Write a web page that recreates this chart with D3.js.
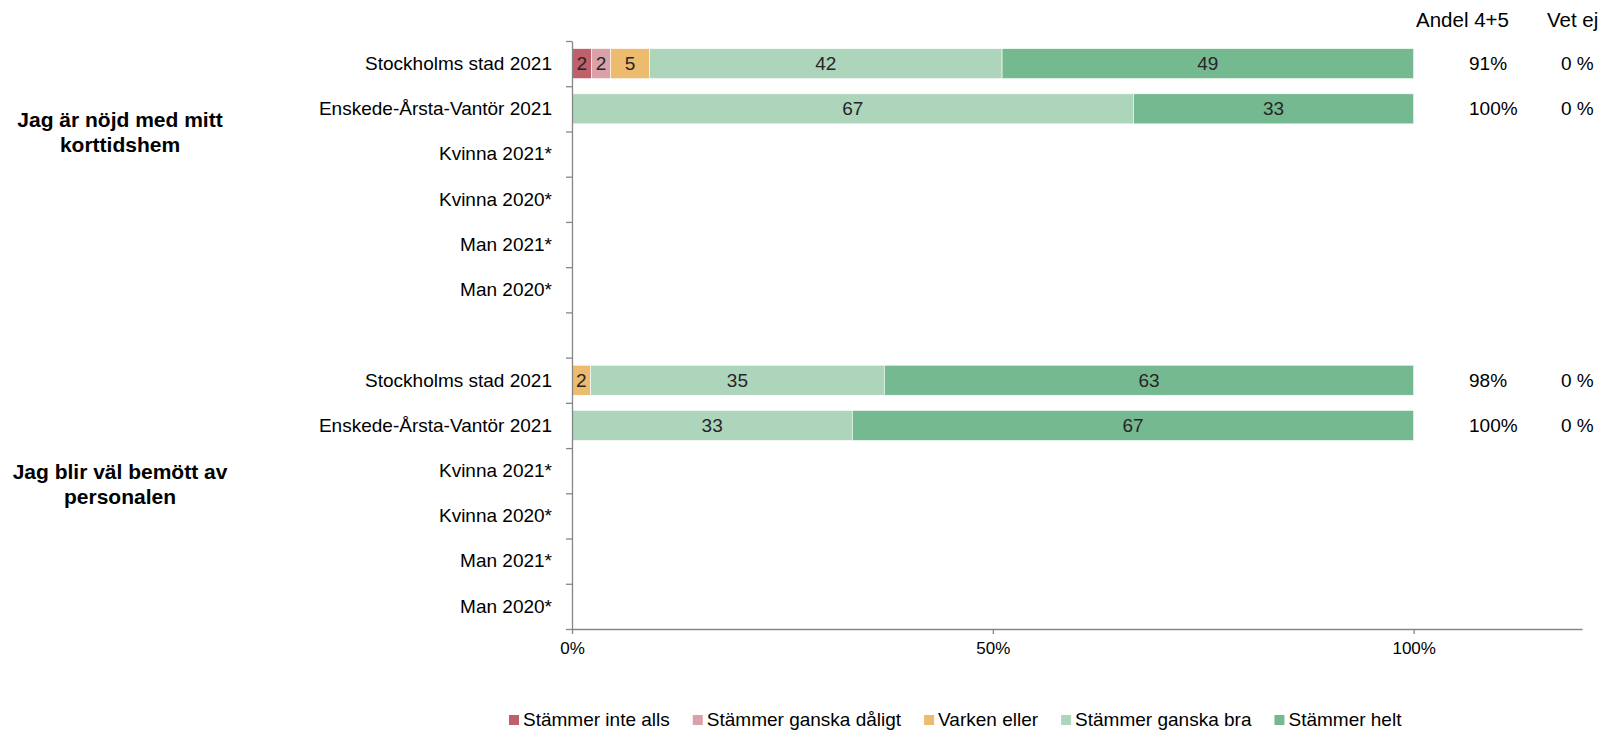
<!DOCTYPE html>
<html>
<head>
<meta charset="utf-8">
<script src="https://cdn.jsdelivr.net/npm/d3@7"></script>
<style>
  html, body { margin: 0; padding: 0; background: #fff; }
  svg { display: block; font-family: "Liberation Sans", Arial, sans-serif; }
</style>
</head>
<body>
<div id="chart"></div>
<script>
// rows top to bottom, index 6 is the blank spacer between the two questions
var rowLabels = ['Stockholms stad 2021', 'Enskede-Årsta-Vantör 2021', 'Kvinna 2021*', 'Kvinna 2020*', 'Man 2021*', 'Man 2020*', '',
  'Stockholms stad 2021', 'Enskede-Årsta-Vantör 2021', 'Kvinna 2021*', 'Kvinna 2020*', 'Man 2021*', 'Man 2020*'];
var seriesNames = ['Stämmer inte alls', 'Stämmer ganska dåligt', 'Varken eller', 'Stämmer ganska bra', 'Stämmer helt'];
var inteAlls  = [2.3, 0, null, null, null, null, null, 0, 0, null, null, null, null];
var ganskaDal = [2.3, 0, null, null, null, null, null, 0, 0, null, null, null, null];
var varken    = [4.6, 0, null, null, null, null, null, 2.2, 0, null, null, null, null];
var ganskaBra = [41.9, 66.7, null, null, null, null, null, 34.9, 33.3, null, null, null, null];
var helt      = [48.9, 33.3, null, null, null, null, null, 62.9, 66.7, null, null, null, null];
var andel45   = ['91%', '100%', null, null, null, null, null, '98%', '100%', null, null, null, null];
var vetEj     = ['0 %', '0 %', null, null, null, null, null, '0 %', '0 %', null, null, null, null];
var groupTitles = [['Jag är nöjd med mitt', 'korttidshem'], ['Jag blir väl bemött av', 'personalen']];
var xTicks = [0, 50, 100];
var colors = ['#c0606a', '#daa1a8', '#edbb6e', '#add5bc', '#75b991'];

var W = 1601, H = 730;
var svg = d3.select('#chart').append('svg').attr('width', W).attr('height', H);

var x = d3.scaleLinear().domain([0, 120]).range([572, 1582]);
var keys = d3.range(rowLabels.length);
var y = d3.scaleBand().domain(keys).range([41, 629]).paddingInner(0.336).paddingOuter(0.168);
var yEdge = d3.scaleLinear().domain([0, keys.length]).range([41, 629]);

var rows = keys.map(function (i) {
  return { i: i, v: [inteAlls[i], ganskaDal[i], varken[i], ganskaBra[i], helt[i]] };
});
var stack = d3.stack().keys([0, 1, 2, 3, 4]).value(function (d, k) { return d.v[k] || 0; });
var layers = stack(rows);

var gL = svg.selectAll('.layer').data(layers).enter().append('g')
  .attr('fill', function (d, k) { return colors[k]; });
gL.selectAll('rect').data(function (d) { return d.filter(function (s) { return s[1] - s[0] > 0; }); })
  .enter().append('rect')
  .attr('x', function (s) { return x(s[0]); })
  .attr('width', function (s) { return x(s[1]) - x(s[0]); })
  .attr('y', function (s) { return y(s.data.i); })
  .attr('height', y.bandwidth())
  .attr('stroke', '#fff').attr('stroke-width', 0.6);
gL.selectAll('text').data(function (d) { return d.filter(function (s) { return s[1] - s[0] > 0; }); })
  .enter().append('text')
  .attr('x', function (s) { return (x(s[0]) + x(s[1])) / 2; })
  .attr('y', function (s) { return y(s.data.i) + y.bandwidth() / 2; })
  .attr('dy', '0.35em').attr('text-anchor', 'middle')
  .attr('fill', '#262626').style('font-size', '19px')
  .text(function (s) { return Math.round(s[1] - s[0]); });

// y axis: labels centred on rows, tick marks between rows
svg.append('g').attr('transform', 'translate(572,0)')
  .call(d3.axisLeft(y).tickSize(0).tickPadding(20).tickFormat(function (i) { return rowLabels[i]; }))
  .call(function (g) {
    g.select('.domain').remove();
    g.selectAll('text').attr('fill', '#000').style('font-size', '19px').attr('dy', '0.33em');
  });
svg.append('g').attr('transform', 'translate(572,0)')
  .call(d3.axisLeft(yEdge).tickValues(d3.range(keys.length + 1)).tickSize(6).tickSizeOuter(0).tickFormat(''))
  .call(function (g) {
    g.select('.domain').attr('stroke', '#868686').attr('stroke-width', 1.3);
    g.selectAll('.tick line').attr('stroke', '#868686').attr('stroke-width', 1.3);
  });

// x axis
svg.append('g').attr('transform', 'translate(0,629)')
  .call(d3.axisBottom(x).tickValues(xTicks).tickSize(5).tickSizeOuter(0).tickPadding(8)
    .tickFormat(function (d) { return d + '%'; }))
  .call(function (g) {
    g.select('.domain').attr('stroke', '#868686').attr('stroke-width', 1.3);
    g.selectAll('.tick line').attr('stroke', '#868686').attr('stroke-width', 1.3);
    g.selectAll('text').attr('fill', '#000').style('font-size', '17px');
  });

// question titles
var titleY = [[127, 152], [479, 504]];
groupTitles.forEach(function (lines, gi) {
  lines.forEach(function (t, li) {
    svg.append('text').attr('x', 120).attr('y', titleY[gi][li])
      .attr('text-anchor', 'middle').attr('fill', '#000')
      .style('font-size', '21px').style('font-weight', 'bold').text(t);
  });
});

// side columns
svg.append('text').attr('x', 1416).attr('y', 27).style('font-size', '20.5px').attr('fill', '#000').text('Andel 4+5');
svg.append('text').attr('x', 1547).attr('y', 27).style('font-size', '20.5px').attr('fill', '#000').text('Vet ej');
svg.selectAll('.andel').data(keys.filter(function (i) { return andel45[i]; })).enter().append('text')
  .attr('x', 1469).attr('y', function (i) { return y(i) + y.bandwidth() / 2; }).attr('dy', '0.35em')
  .style('font-size', '19px').attr('fill', '#000').text(function (i) { return andel45[i]; });
svg.selectAll('.vetej').data(keys.filter(function (i) { return vetEj[i]; })).enter().append('text')
  .attr('x', 1561).attr('y', function (i) { return y(i) + y.bandwidth() / 2; }).attr('dy', '0.35em')
  .style('font-size', '19px').attr('fill', '#000').text(function (i) { return vetEj[i]; });

// legend
var lx = 509;
var leg = svg.append('g').attr('transform', 'translate(0,726)');
seriesNames.forEach(function (name, k) {
  leg.append('rect').attr('x', lx).attr('y', -11).attr('width', 10).attr('height', 10).attr('fill', colors[k]);
  var t = leg.append('text').attr('x', lx + 14).attr('y', 0).style('font-size', '19px').attr('fill', '#000').text(name);
  lx += 14 + t.node().getComputedTextLength() + 23;
});
</script>
</body>
</html>
